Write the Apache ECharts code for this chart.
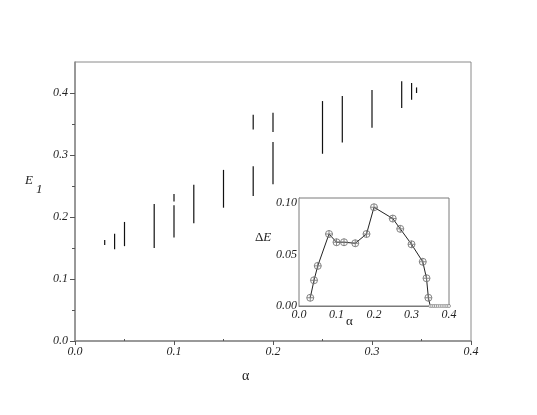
<!DOCTYPE html>
<html>
<head>
<meta charset="utf-8">
<script src="https://cdn.jsdelivr.net/npm/echarts@6/dist/echarts.min.js"></script>
<style>html,body{margin:0;padding:0;background:#fff}#c{width:537px;height:415px}</style>
</head>
<body>
<div id="c"></div>
<script>
// Main plot: vertical ranges of E1 for each alpha
var mainAlpha = [0.03, 0.04, 0.05, 0.08, 0.10, 0.10, 0.12, 0.15, 0.18, 0.18, 0.20, 0.20, 0.25, 0.27, 0.30, 0.33, 0.34, 0.345];
var mainLow   = [0.155, 0.148, 0.153, 0.150, 0.225, 0.167, 0.190, 0.215, 0.341, 0.234, 0.337, 0.253, 0.302, 0.320, 0.344, 0.376, 0.389, 0.400];
var mainHigh  = [0.163, 0.173, 0.192, 0.221, 0.237, 0.219, 0.252, 0.276, 0.365, 0.282, 0.368, 0.321, 0.387, 0.395, 0.405, 0.419, 0.416, 0.409];

// Inset: Delta E vs alpha
var insetAlpha = [0.03, 0.04, 0.05, 0.08, 0.10, 0.12, 0.15, 0.18, 0.20, 0.25, 0.27, 0.30, 0.33, 0.34, 0.345, 0.35];
var insetDE    = [0.008, 0.025, 0.039, 0.070, 0.062, 0.062, 0.061, 0.070, 0.096, 0.085, 0.075, 0.060, 0.043, 0.027, 0.008, 0.0];
var tailAlpha  = [0.35, 0.355, 0.36, 0.365, 0.37, 0.375, 0.38, 0.385, 0.39, 0.395, 0.40];
var tailDE     = [0, 0, 0, 0, 0, 0, 0, 0, 0, 0, 0];

// Tick values
var mainXTicks = [0, 0.1, 0.2, 0.3, 0.4];
var mainXMinor = [0.05, 0.15, 0.25, 0.35];
var mainYTicks = [0, 0.1, 0.2, 0.3, 0.4];
var mainYMinor = [0.05, 0.15, 0.25, 0.35];
var insetXTicks = [0, 0.1, 0.2, 0.3, 0.4];
var insetXMinor = [0.05, 0.15, 0.25, 0.35];
var insetYTicks = [0, 0.05, 0.10];

var rangeData = mainAlpha.map(function (a, i) { return [a, mainLow[i], mainHigh[i]]; });
var insetData = insetAlpha.map(function (a, i) {
  var d = { value: [a, insetDE[i]] };
  if (i === insetAlpha.length - 1) { d.symbolSize = 1; }
  return d;
});
var tailData = tailAlpha.map(function (a, i) { return [a, tailDE[i]]; });

var serif = '"Liberation Serif", "DejaVu Serif", serif';
var labelStyle = { fontFamily: serif, fontStyle: 'italic', fontSize: 12, color: '#222' };
var gray = '#8a8a8a';

function fmt1(v) { return v.toFixed(1); }
function fmt2(v) { return v.toFixed(2); }

var crossCircle = 'path://M0,-5 A5,5 0 1,1 0,5 A5,5 0 1,1 0,-5 Z M-5,0 L5,0 M0,-5 L0,5';

var chart = echarts.init(document.getElementById('c'), null, { renderer: 'canvas' });
chart.setOption({
  animation: false,
  backgroundColor: '#fff',
  grid: [
    { left: 75, right: 66, top: 62, bottom: 74, show: true, borderColor: '#8a8a8a', borderWidth: 1, backgroundColor: 'transparent' },
    { left: 299, right: 88, top: 198, bottom: 109, show: true, borderColor: '#7a7a7a', borderWidth: 1, backgroundColor: '#fff', z: 5 }
  ],
  xAxis: [
    { type: 'value', gridIndex: 0, min: 0, max: 0.4, interval: 0.1,
      axisLine: { show: true, lineStyle: { color: gray, width: 1.5 } },
      axisTick: { show: true, length: 4, customValues: mainXTicks, lineStyle: { color: '#555' } },
      axisLabel: Object.assign({ margin: 5, customValues: mainXTicks, formatter: fmt1 }, labelStyle),
      splitLine: { show: false } },
    { type: 'value', gridIndex: 0, min: 0, max: 0.4, interval: 0.05, position: 'bottom',
      axisLine: { show: false },
      axisTick: { show: true, inside: true, length: 2, customValues: mainXMinor, lineStyle: { color: '#555' } },
      axisLabel: { show: false }, splitLine: { show: false } },
    { type: 'value', gridIndex: 1, min: 0, max: 0.4, interval: 0.1,
      axisLine: { show: true, lineStyle: { color: '#7a7a7a', width: 1 } },
      axisTick: { show: true, inside: true, length: 2, customValues: insetXMinor.concat(insetXTicks), lineStyle: { color: '#555' } },
      axisLabel: Object.assign({ margin: 3, customValues: insetXTicks, formatter: fmt1 }, labelStyle),
      splitLine: { show: false } }
  ],
  yAxis: [
    { type: 'value', gridIndex: 0, min: 0, max: 0.45, interval: 0.1,
      axisLine: { show: true, lineStyle: { color: gray, width: 1.5 } },
      axisTick: { show: true, length: 5, customValues: mainYTicks, lineStyle: { color: '#555' } },
      axisLabel: Object.assign({ margin: 7, customValues: mainYTicks, formatter: fmt1 }, labelStyle),
      splitLine: { show: false } },
    { type: 'value', gridIndex: 0, min: 0, max: 0.45, interval: 0.05, position: 'left',
      axisLine: { show: false },
      axisTick: { show: true, length: 3, customValues: mainYMinor, lineStyle: { color: '#555' } },
      axisLabel: { show: false }, splitLine: { show: false } },
    { type: 'value', gridIndex: 1, min: 0, max: 0.105, interval: 0.05,
      axisLine: { show: true, lineStyle: { color: '#7a7a7a', width: 1 } },
      axisTick: { show: false },
      axisLabel: Object.assign({ margin: 2, customValues: insetYTicks, formatter: fmt2 }, labelStyle),
      splitLine: { show: false } }
  ],
  series: [
    { type: 'custom', xAxisIndex: 0, yAxisIndex: 0, data: rangeData,
      encode: { x: 0, y: [1, 2] },
      renderItem: function (params, api) {
        var x = api.value(0), lo = api.value(1), hi = api.value(2);
        var p1 = api.coord([x, lo]), p2 = api.coord([x, hi]);
        return { type: 'line', shape: { x1: p1[0], y1: p1[1], x2: p2[0], y2: p2[1] },
                 style: { stroke: '#111', lineWidth: 1.2 } };
      } },
    { type: 'line', xAxisIndex: 2, yAxisIndex: 2, data: insetData, z: 10,
      symbol: crossCircle, symbolSize: 7, showAllSymbol: true,
      lineStyle: { color: '#222', width: 1 },
      itemStyle: { color: 'rgba(255,255,255,0)', borderColor: '#777', borderWidth: 0.9 } },
    { type: 'line', xAxisIndex: 2, yAxisIndex: 2, data: tailData, z: 10,
      symbol: 'circle', symbolSize: 3, showAllSymbol: true,
      lineStyle: { color: '#888', width: 0.8 },
      itemStyle: { color: '#fff', borderColor: '#888', borderWidth: 0.8 } }
  ],
  graphic: [
    { type: 'text', left: 242, top: 369, style: { text: 'α', font: '14px ' + serif, fill: '#222' } },
    { type: 'text', left: 25, top: 174, style: { text: 'E', font: 'italic 13px ' + serif, fill: '#222' } },
    { type: 'text', left: 36, top: 183, style: { text: '1', font: 'italic 13px ' + serif, fill: '#222' } },
    { type: 'text', left: 346, top: 315, z: 20, style: { text: 'α', font: '13px ' + serif, fill: '#222' } },
    { type: 'text', left: 255, top: 231, z: 20, style: {
        rich: { d: { font: '13px ' + serif, fill: '#222' }, e: { font: 'italic 13px ' + serif, fill: '#222' } },
        text: '{d|Δ}{e|E}' } }
  ]
});
</script>
</body>
</html>
